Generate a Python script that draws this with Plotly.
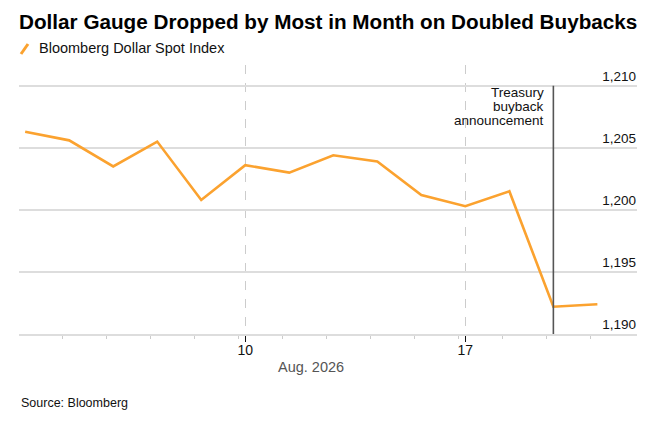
import plotly.graph_objects as go

# Bloomberg Dollar Spot Index, business days Aug 3 - Aug 20, 2026
dates = ["2026-08-03", "2026-08-04", "2026-08-05", "2026-08-06", "2026-08-07",
         "2026-08-10", "2026-08-11", "2026-08-12", "2026-08-13", "2026-08-14",
         "2026-08-17", "2026-08-18", "2026-08-19", "2026-08-20"]
values = [1206.3, 1205.6, 1203.5, 1205.5, 1200.8,
          1203.6, 1203.0, 1204.4, 1203.9, 1201.2,
          1200.3, 1201.5, 1192.2, 1192.4]
y_ticks = [1190, 1195, 1200, 1205, 1210]
x_labels = {"2026-08-10": "10", "2026-08-17": "17"}
event_date = "2026-08-19"
event_lines = ["Treasury", "buyback", "announcement"]

FONT = "Liberation Sans, Arial, sans-serif"
ORANGE = "#fba22f"

# business-day index positions (weekends skipped)
idx = list(range(len(dates)))
major_vals = [dates.index(d) for d in x_labels]
major_text = list(x_labels.values())
minor_vals = [i - 0.15 for i in idx[1:]]
event_x = dates.index(event_date)

# page body has an 8px default margin, so the figure is sized to sit inside it
OFF = 8
W, H = 659 - 2 * OFF, 421 - 2 * OFF
L, T = 19 - OFF, 65 - OFF
R = W - (637 - OFF)
B = H - (334 - OFF)
pw, ph = W - L - R, H - T - B


def px(x):
    return (x - OFF - L) / pw


def py(y):
    return (H - B - (y - OFF)) / ph


fig = go.Figure()
fig.add_trace(go.Scatter(
    x=idx, y=values, mode="lines", name="Bloomberg Dollar Spot Index",
    line=dict(color=ORANGE, width=2.6), customdata=dates,
    hovertemplate="%{customdata}: %{y:,.1f}<extra></extra>",
))

# announcement marker
fig.add_shape(type="line", x0=event_x, x1=event_x, y0=1190, y1=1210,
              xref="x", yref="y", line=dict(color="#555555", width=1.6))
for k, line in enumerate(event_lines):
    fig.add_annotation(x=event_x, y=1210, xref="x", yref="y", xanchor="right", yanchor="middle",
                       xshift=-7, yshift=-7 - 14 * k, showarrow=False, text=line,
                       font=dict(family=FONT, size=13.5, color="#111111"))

# legend entry (slash swatch + label)
fig.add_shape(type="line", xref="paper", yref="paper",
              x0=px(21), x1=px(28), y0=py(54), y1=py(44),
              line=dict(color=ORANGE, width=3))
fig.add_annotation(x=px(37), y=py(48), xref="paper", yref="paper", xanchor="left", yanchor="middle",
                   showarrow=False, text="Bloomberg Dollar Spot Index",
                   font=dict(family=FONT, size=14.5, color="#111111"))

fig.add_annotation(x=px(311), y=py(367), xref="paper", yref="paper", xanchor="center", yanchor="middle",
                   showarrow=False, text="Aug. 2026",
                   font=dict(family=FONT, size=14.5, color="#555555"))
fig.add_annotation(x=px(19), y=py(403), xref="paper", yref="paper", xanchor="left", yanchor="middle",
                   showarrow=False, text="Source: Bloomberg",
                   font=dict(family=FONT, size=12.5, color="#111111"))

fig.update_layout(
    width=W, height=H,
    margin=dict(l=L, r=R, t=T, b=B),
    paper_bgcolor="white", plot_bgcolor="white",
    showlegend=False,
    title=dict(text="<b>Dollar Gauge Dropped by Most in Month on Doubled Buybacks</b>",
               x=L / W, xanchor="left", xref="container",
               y=1 - (22 - OFF) / H, yanchor="middle", yref="container",
               font=dict(family=FONT, size=20.7, color="#000000")),
    font=dict(family=FONT, size=13, color="#111111"),
    xaxis=dict(
        range=[-0.14, 13.9], tickmode="array", tickvals=major_vals, ticktext=major_text,
        showgrid=True, gridcolor="#cccccc", griddash="dash", gridwidth=1,
        ticks="outside", ticklen=6, tickcolor="#111111", tickwidth=1,
        showline=True, linecolor="#dddddd", linewidth=2,
        minor=dict(tickmode="array", tickvals=minor_vals, ticks="outside", ticklen=3,
                   tickcolor="#cccccc", showgrid=False),
        zeroline=False, fixedrange=True, ticklabelstandoff=-4,
        tickfont=dict(family=FONT, size=14, color="#111111"),
    ),
    yaxis=dict(
        range=[1190, 1211.67], side="right", tickmode="array", tickvals=y_ticks,
        tickformat=",", ticklabelposition="inside top", ticklabelstandoff=-2,
        showgrid=True, gridcolor="#dddddd", gridwidth=2,
        ticks="", zeroline=False, showline=False, fixedrange=True,
        tickfont=dict(family=FONT, size=13.5, color="#111111"),
    ),
)

fig.write_html("out.html")
